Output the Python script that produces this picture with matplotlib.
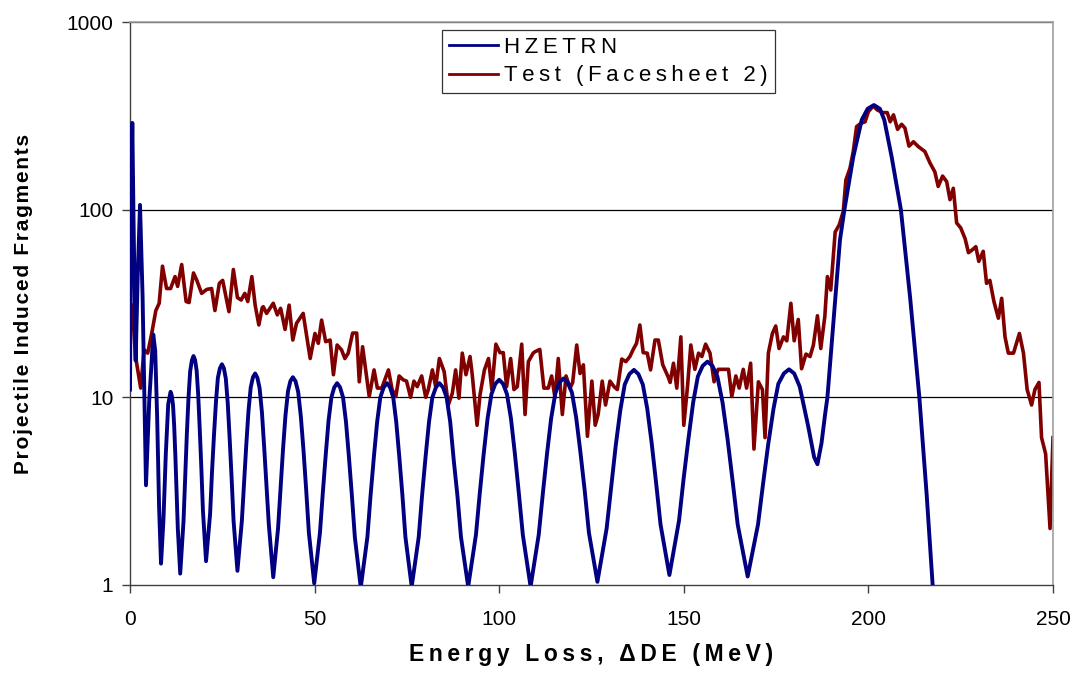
import matplotlib
matplotlib.use("Agg")
import matplotlib.pyplot as plt
from matplotlib.ticker import FixedLocator, FixedFormatter, NullLocator

plt.rcParams['font.family'] = ['Liberation Sans', 'DejaVu Sans']

# ---- HZETRN (model) ----
hz_x = [0.0, 0.3, 0.63, 0.95, 1.53, 2.1, 2.71, 3.4, 4.33, 5.2, 6.3, 6.83, 7.35, 7.88, 8.4,
        9.05, 9.7, 10.35, 11.0, 11.325, 11.65, 11.975, 12.3, 12.625, 12.95, 13.6, 14.5, 14.95,
        15.4, 15.85, 16.3, 16.75, 17.2, 17.625, 18.05, 18.475, 18.9, 19.325, 19.75, 20.6, 21.7,
        22.21, 22.75, 23.29, 23.8, 24.36, 24.9, 25.425, 25.95, 26.475, 27.0, 27.525, 28.05,
        29.1, 30.3, 30.9, 31.5, 32.1, 32.7, 33.3, 33.9, 34.51, 35.1, 35.74, 36.35, 36.96, 37.6,
        38.8, 40.1, 40.79, 41.45, 42.11, 42.8, 43.44, 44.1, 44.825, 45.55, 46.275, 47.0, 47.725,
        48.45, 49.9, 51.45, 52.225, 53.0, 53.775, 54.55, 55.325, 56.1, 56.9, 57.7, 58.5, 59.3,
        60.1, 60.9, 62.5, 64.3, 65.16, 66.05, 66.94, 67.8, 68.71, 69.6, 70.44, 71.3, 72.11,
        72.95, 73.79, 74.6, 76.3, 78.2, 79.11, 80.05, 80.99, 81.9, 82.86, 83.8, 84.78, 85.75,
        86.73, 87.7, 88.68, 89.65, 91.6, 93.7, 94.75, 95.8, 96.85, 97.9, 98.95, 100.0, 101.06,
        102.1, 103.19, 104.25, 105.31, 106.4, 108.5, 110.7, 111.84, 112.95, 114.06, 115.2,
        116.29, 117.4, 118.55, 119.7, 120.85, 122.0, 123.15, 124.3, 126.6, 129.1, 130.31,
        131.55, 132.79, 134.0, 135.26, 136.5, 137.7, 138.9, 140.1, 141.3, 142.5, 143.7, 146.1,
        148.7, 149.96, 151.25, 152.54, 153.8, 155.11, 156.4, 157.76, 159.1, 160.49, 161.85,
        163.21, 164.6, 167.3, 170.1, 171.5, 172.85, 174.3, 175.6, 177.1, 178.5, 179.9, 181.4,
        183.7, 185.3, 186.2, 187.3, 188.3, 188.9, 190.5, 192.3, 193.5, 195.9, 198.2, 199.8,
        201.5, 203.1, 204.3, 206.3, 208.8, 211.3, 213.8, 215.8, 217.4, 219.0]
hz_y = [11, 120, 290, 90, 15.7, 45, 106, 35, 3.4, 9.5, 21.6, 17.7, 7.9, 2.6, 1.3,
        2.2, 5.0, 9.2, 10.7, 10.2, 9.1, 7.0, 4.8, 3.1, 2.0, 1.15, 2.2, 3.8,
        6.4, 10.0, 13.8, 15.7, 16.6, 15.8, 13.9, 10.3, 6.7, 4.2, 2.5, 1.34, 2.4,
        4.0, 6.3, 9.5, 12.7, 14.3, 15.0, 14.3, 12.6, 9.3, 6.0, 3.7, 2.2,
        1.19, 2.2, 3.5, 5.6, 8.5, 11.3, 12.8, 13.4, 12.7, 11.2, 8.3, 5.4, 3.4, 2.1,
        1.10, 2.0, 3.3, 5.3, 8.0, 10.8, 12.2, 12.8, 12.2, 10.7, 7.9, 5.2, 3.2,
        1.9, 1.02, 1.9, 3.1, 4.9, 7.5, 10.0, 11.3, 11.9, 11.3, 10.0, 7.4, 4.8,
        3.0, 1.8, 0.97, 1.8, 3.0, 4.8, 7.4, 10.0, 11.3, 11.9, 11.3, 10.0, 7.4,
        4.8, 3.0, 1.8, 0.98, 1.8, 3.0, 4.8, 7.4, 10.0, 11.3, 11.9, 11.3, 10.0,
        7.4, 4.6, 3.0, 1.8, 0.98, 1.85, 3.1, 5.0, 7.7, 10.4, 11.8, 12.4, 11.8,
        10.4, 7.7, 5.0, 3.1, 1.85, 0.98, 1.85, 3.1, 5.0, 7.7, 10.5,
        12.0, 12.6, 12.0, 10.6, 7.8, 5.1, 3.2, 1.9, 1.04, 2.0, 3.3,
        5.5, 8.5, 11.7, 13.3, 14.0, 13.3, 11.7, 8.7, 5.7, 3.5, 2.1, 1.13,
        2.2, 3.7, 6.0, 9.4, 12.9, 14.7, 15.5, 14.7, 12.9, 9.4, 6.0,
        3.6, 2.1, 1.11, 2.1, 3.5, 5.6, 8.7, 11.8, 13.4, 14.1, 13.4, 11.4,
        7.0, 4.8, 4.4, 5.7, 8.2, 10, 24.8, 69, 100, 191, 301, 345,
        361, 345, 301, 191, 100, 34, 10, 3.0, 1.0, 0.4]

# ---- Test (Facesheet 2) ----
test_x = [0.6, 1.5, 2.9, 3.8, 4.8, 5.9, 7.0, 7.9, 8.8, 9.9, 11.0, 12.2, 12.9, 14.0, 15.2, 16.0,
          17.2, 18.1, 19.4, 20.8, 22.1, 23.0, 24.2, 25.1, 26.8, 28.0, 29.1, 30.1, 31.1, 31.9,
          33.0, 33.9, 34.9, 35.8, 36.1, 37.0, 38.8, 39.9, 40.8, 42.0, 43.1, 44.1, 45.1, 46.9,
          48.8, 50.1, 51.0, 51.9, 53.0, 54.2, 55.1, 56.1, 57.3, 58.2, 59.1, 60.3, 61.4, 62.1,
          63.0, 64.8, 66.1, 67.0, 68.2, 70.0, 71.0, 72.0, 72.9, 74.0, 74.9, 76.0, 76.9, 77.8,
          79.0, 80.1, 80.8, 81.9, 82.8, 83.8, 85.1, 86.2, 87.3, 88.2, 89.1, 90.0, 91.0, 92.1,
          92.7, 94.0, 94.8, 96.0, 97.1, 98.0, 99.1, 100.2, 101.1, 102.0, 103.1, 104.0, 104.9,
          106.1, 107.0, 107.9, 109.2, 109.7, 111.0, 112.1, 113.3, 114.2, 115.1, 116.0, 117.1,
          118.1, 119.2, 119.9, 121.0, 121.9, 122.8, 123.9, 125.1, 126.0, 126.8, 127.9, 128.8,
          130.0, 131.1, 132.0, 133.2, 134.3, 135.4, 136.3, 137.2, 138.1, 139.0, 140.1, 141.0,
          142.2, 143.1, 144.3, 145.8, 146.3, 147.2, 148.1, 149.2, 150.0, 151.0, 151.9, 153.0,
          154.0, 154.9, 155.9, 157.1, 158.2, 159.3, 160.4, 162.1, 163.0, 164.1, 165.0, 166.1,
          167.0, 168.1, 169.0, 170.2, 171.3, 172.0, 172.9, 174.0, 174.9, 175.8, 177.0, 177.9,
          179.0, 179.9, 181.0, 181.9, 183.1, 184.2, 185.1, 186.2, 187.1, 188.2, 188.9, 189.8,
          191.0, 192.1, 193.2, 193.9, 195.0, 195.9, 196.8, 197.9, 199.1, 200.0, 201.3, 202.4,
          203.9, 205.1, 205.9, 206.8, 207.9, 209.0, 209.9, 211.0, 212.2, 213.5, 215.3, 216.7,
          218.0, 218.9, 220.1, 221.2, 222.1, 223.0, 223.9, 225.0, 226.2, 227.1, 228.1, 229.1,
          229.9, 231.1, 232.0, 232.9, 234.0, 235.2, 236.1, 237.0, 237.9, 239.3, 240.9, 242.0,
          243.0, 244.2, 245.1, 246.2, 246.9, 248.0, 249.2, 250.0]
test_y = [31, 16.5, 11.2, 17.9, 17.2, 22, 29, 31.7, 50, 38, 38, 44, 39, 51, 32.4, 32,
          46, 42, 35.8, 37.6, 38, 29, 40.5, 42, 28.6, 48, 34, 33, 35.8, 32.4,
          44, 31, 24.3, 30, 30.4, 28, 31.7, 27.5, 29.8, 23, 31, 20.2, 24.8, 28,
          16.1, 21.9, 19.4, 25.8, 19.8, 20.2, 13.2, 19, 17.9, 16.1, 17.2, 22, 22, 12.1,
          18.6, 10.1, 14, 11.2, 11.2, 14, 11, 10.1, 13, 12.4, 12.2, 10, 12.2, 11.4,
          13, 10, 11, 14, 11.4, 16.1, 13.7, 9.1, 10.5, 14, 9.9, 17.2, 13.2, 16.5,
          13.2, 7.1, 10.3, 14, 16.1, 11, 19.2, 17.3, 17.3, 11.4, 16.1, 11, 11.4,
          19.2, 8.1, 15.5, 17.2, 17.5, 18, 11.2, 11.2, 13, 10, 16.1, 8.1,
          13, 11.2, 12, 19, 13.4, 14.9, 6.2, 12.2, 7.1, 8.1, 12.2, 9.1,
          12.2, 11.4, 11, 16, 15.5, 16.5, 18, 19.4, 24.3, 17.3, 17.2, 14,
          20.2, 20.2, 14.9, 12.8, 12, 15.2, 11.2, 21, 7.1, 11.4, 19, 14.1,
          17.2, 16.5, 19.2, 17.2, 12.1, 14.1, 14.1, 14.1, 10.1, 13, 11.2, 14.1,
          11.2, 15.2, 5.3, 12.1, 11, 6.1, 17.2, 21.9, 24, 18.2, 21, 20,
          31.7, 20, 26, 14.2, 17, 16.5, 19, 27.2, 18.2, 27, 44, 37.3,
          76, 83, 98, 144, 166, 204, 277, 288, 294, 333, 357, 340,
          329, 329, 294, 320, 268, 285, 272, 218, 230, 217, 204, 177,
          159, 133, 151, 141, 113, 130, 85, 80, 70, 59, 61, 63.5,
          53, 60, 40.5, 42, 32.4, 26.4, 33.7, 21, 17.2, 17.2, 21.9, 17.2,
          11, 9.1, 11, 12, 6.1, 5, 2.0, 6.1]

x_ticks = [0, 50, 100, 150, 200, 250]
y_ticks = [1, 10, 100, 1000]
y_tick_labels = ["1", "10", "100", "1000"]

series_names = ["HZETRN", "Test (Facesheet 2)"]
x_label = "Energy Loss, \u0394DE (MeV)"
y_label = "Projectile Induced Fragments"


def spaced(s, sep="\u2009"):
    return sep.join(s)


fig = plt.figure(figsize=(10.79, 6.75), dpi=100)
ax = fig.add_axes([130 / 1079, 1 - 585 / 675, (1053 - 130) / 1079, (585 - 22) / 675])

ax.plot(hz_x, hz_y, color="#000080", lw=2.8, label=spaced(series_names[0]), zorder=3,
        solid_joinstyle="round")
ax.plot(test_x, test_y, color="#800000", lw=2.6, label=spaced(series_names[1]), zorder=2,
        solid_joinstyle="round")

ax.set_yscale("log")
ax.set_xlim(0, 250)
ax.set_ylim(1, 1000)
ax.xaxis.set_major_locator(FixedLocator(x_ticks))
ax.yaxis.set_major_locator(FixedLocator(y_ticks))
ax.yaxis.set_major_formatter(FixedFormatter(y_tick_labels))
ax.yaxis.set_minor_locator(NullLocator())

for v in y_ticks[1:]:
    ax.axhline(v, color="black", lw=0.9, zorder=1)

for side in ["left", "bottom"]:
    ax.spines[side].set_color("#404040")
    ax.spines[side].set_linewidth(1.0)
for side in ["top", "right"]:
    ax.spines[side].set_color("#a0a0a0")
    ax.spines[side].set_linewidth(1.2)

ax.tick_params(axis="both", direction="out", length=6, width=1, color="#404040",
               labelsize=15, pad=6)
ax.tick_params(axis="x", pad=12)

ax.set_xlabel(spaced(x_label), fontsize=16.5, fontweight="bold", labelpad=10)
ax.set_ylabel(spaced(y_label, "\u200a"), fontsize=15, fontweight="bold", labelpad=24)

leg = fig.legend(loc="upper left", bbox_to_anchor=(442 / 1079, 1 - 30 / 675),
                 fontsize=16, frameon=True, fancybox=False, shadow=False,
                 handlelength=2.2, handletextpad=0.3, borderpad=0.3,
                 labelspacing=0.35, borderaxespad=0)
leg.get_frame().set_edgecolor("black")
leg.get_frame().set_linewidth(0.9)
for h in leg.get_lines():
    h.set_linewidth(2.0)

fig.savefig("out.png", dpi=100)
